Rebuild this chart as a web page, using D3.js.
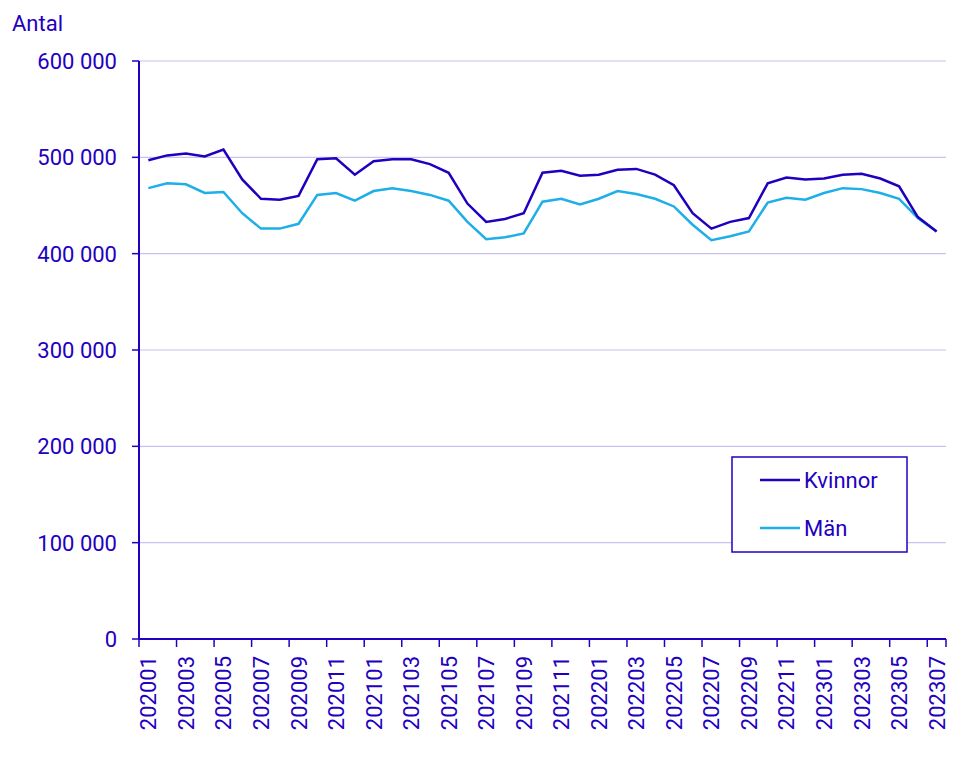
<!DOCTYPE html>
<html><head><meta charset="utf-8">
<script src="https://cdn.jsdelivr.net/npm/d3@7"></script>
<style>body{margin:0;background:#fff}text{font-family:Roboto,sans-serif}</style>
</head><body><svg id="c" width="964" height="767"></svg>
<script>
const months=[];for(let y=2020;y<=2023;y++)for(let m=1;m<=12;m++){if(y===2023&&m>7)break;months.push(""+y+String(m).padStart(2,"0"));}
const kvinnor=[497,502,504,501,508,477,457,456,460,498,499,482,496,498,498,493,484,452,433,436,442,484,486,481,482,487,488,482,471,442,426,433,437,473,479,477,478,482,483,478,470,438,423].map(v=>v*1000);
const man=[468,473,472,463,464,442,426,426,431,461,463,455,465,468,465,461,455,433,415,417,421,454,457,451,457,465,462,457,449,430,414,418,423,453,458,456,463,468,467,463,457,437,423].map(v=>v*1000);
const yTicks=[0,100000,200000,300000,400000,500000,600000];
const col="#2200c0", c1="#1e00be", c2="#1eaee8";
const svg=d3.select("#c");
const L=139,R=946,T=61,B=639;
const x=d3.scalePoint().domain(months).range([L,R]).padding(0.5);
const y=d3.scaleLinear().domain([0,600000]).range([B,T]);
const fmt=v=>d3.format(",")(v).replace(/,/g," ");
svg.append("g").selectAll("line").data(yTicks.slice(1)).join("line")
 .attr("x1",L).attr("x2",R).attr("y1",d=>y(d)).attr("y2",d=>y(d)).attr("stroke","#c8c2ee").attr("stroke-width",1.2);
svg.append("g").selectAll("line").data(yTicks).join("line")
 .attr("x1",L-7).attr("x2",L).attr("y1",d=>y(d)).attr("y2",d=>y(d)).attr("stroke",col).attr("stroke-width",1.5);
svg.append("g").selectAll("text").data(yTicks).join("text").attr("x",117).attr("y",d=>y(d)+8)
 .attr("text-anchor","end").attr("font-size",22).attr("fill",col).text(fmt);
svg.append("text").attr("x",12).attr("y",31).attr("font-size",22).attr("fill",col).text("Antal");
svg.append("line").attr("x1",L).attr("x2",L).attr("y1",T).attr("y2",B).attr("stroke",col).attr("stroke-width",2);
svg.append("line").attr("x1",L).attr("x2",R).attr("y1",B).attr("y2",B).attr("stroke",col).attr("stroke-width",2);
const xt=svg.append("g");
const labeled=months.filter((d,i)=>i%2===0);
xt.selectAll("line").data(labeled).join("line").attr("x1",d=>x(d)-x.step()/2).attr("x2",d=>x(d)-x.step()/2)
 .attr("y1",B).attr("y2",B+8).attr("stroke",col).attr("stroke-width",1.5);
xt.append("line").attr("x1",R).attr("x2",R).attr("y1",B).attr("y2",B+8).attr("stroke",col).attr("stroke-width",1.5);
xt.selectAll("text").data(labeled).join("text")
 .attr("transform",d=>`translate(${x(d)+8},${B+17}) rotate(-90)`).attr("text-anchor","end")
 .attr("font-size",22).attr("fill",col).text(d=>d);
const line=d3.line().x((d,i)=>x(months[i])).y(d=>y(d));
svg.append("path").datum(man).attr("d",line).attr("fill","none").attr("stroke",c2).attr("stroke-width",2.5);
svg.append("path").datum(kvinnor).attr("d",line).attr("fill","none").attr("stroke",c1).attr("stroke-width",2.5);
const lg=svg.append("g");
lg.append("rect").attr("x",732).attr("y",457).attr("width",175).attr("height",95).attr("fill","#fff").attr("stroke",col).attr("stroke-width",1.5);
[["Kvinnor",c1,480],["Män",c2,528]].forEach(([t,c,yy])=>{
 lg.append("line").attr("x1",760).attr("x2",800).attr("y1",yy).attr("y2",yy).attr("stroke",c).attr("stroke-width",2.5);
 lg.append("text").attr("x",804).attr("y",yy+8).attr("font-size",22).attr("fill",col).text(t);
});
</script></body></html>
